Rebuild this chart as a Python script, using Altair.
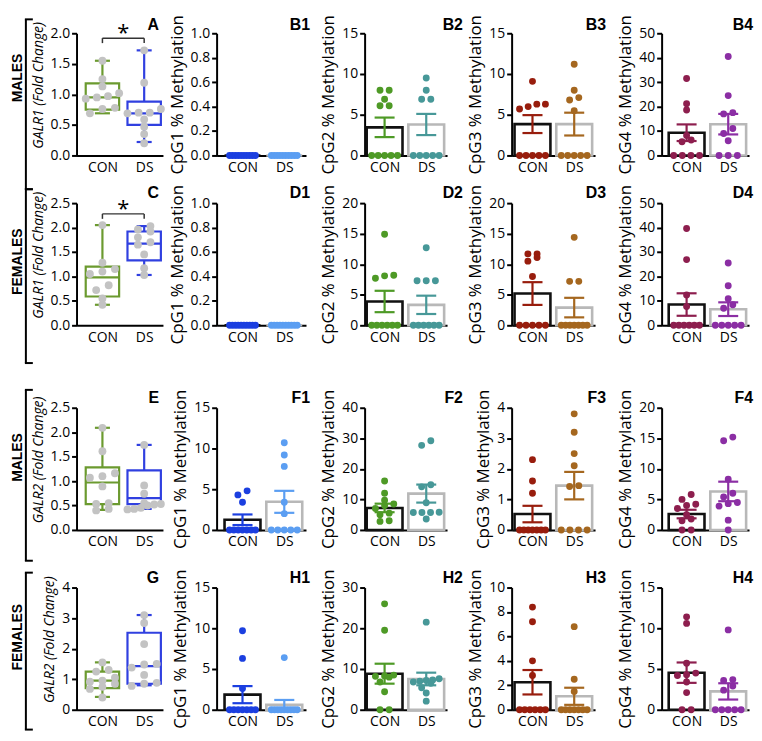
import altair as alt
import pandas as pd
import numpy as np

GROUPS = ["CON", "DS"]

# ---------------- GALR fold change (box panels) ----------------
A_CON = [1.55, 1.25, 1.13, 1.02, 0.97, 0.95, 0.93, 0.78, 0.76, 0.69]
A_DS = [1.72, 1.19, 0.76, 0.70, 0.70, 0.69, 0.59, 0.47, 0.35, 0.20]
A_BOX_CON = [0.69, 0.75, 0.95, 1.18, 1.55]   # min, q1, median, q3, max
A_BOX_DS = [0.22, 0.50, 0.69, 0.88, 1.72]
A_SIG_Y = 1.92

C_CON = [2.05, 1.28, 1.15, 1.10, 1.05, 0.82, 0.72, 0.55, 0.42]
C_DS = [2.03, 1.96, 1.92, 1.80, 1.70, 1.65, 1.45, 1.17, 1.03]
C_BOX_CON = [0.42, 0.59, 0.98, 1.20, 2.05]
C_BOX_DS = [1.03, 1.33, 1.67, 1.92, 2.03]
C_SIG_Y = 2.28

E_CON = [2.09, 1.61, 1.16, 1.10, 1.07, 0.89, 0.55, 0.53, 0.43, 0.40]
E_DS = [1.74, 0.91, 0.74, 0.55, 0.53, 0.52, 0.50, 0.45, 0.43, 0.42]
E_BOX_CON = [0.41, 0.53, 0.97, 1.28, 2.09]
E_BOX_DS = [0.43, 0.53, 0.65, 1.22, 1.74]

G_CON = [1.55, 1.30, 1.25, 1.05, 0.95, 0.92, 0.85, 0.75, 0.68, 0.40]
G_DS = [3.10, 2.84, 2.15, 1.50, 1.48, 1.38, 1.14, 0.88, 0.85, 0.78]
G_BOX_CON = [0.42, 0.71, 0.95, 1.25, 1.55]
G_BOX_DS = [0.80, 0.85, 1.43, 2.52, 3.10]

# ---------------- CpG % methylation (bar panels) ----------------
B1_CON = [0] * 10
B1_DS = [0] * 10
B1_MEAN = [0, 0]
B1_SEM = [0, 0]
B2_CON = [8.0, 8.0, 6.9, 6.1, 6.1, 0, 0, 0, 0, 0]
B2_DS = [9.5, 8.0, 6.9, 6.9, 0, 0, 0, 0, 0]
B2_MEAN = [3.45, 3.8]
B2_SEM = [1.2, 1.3]
B3_CON = [9.1, 6.3, 6.3, 6.0, 5.7, 0, 0, 0, 0, 0]
B3_DS = [11.2, 8.0, 7.1, 6.8, 5.5, 0, 0, 0, 0, 0]
B3_MEAN = [3.85, 3.85]
B3_SEM = [1.1, 1.4]
B4_CON = [31.5, 21.2, 18.6, 8.2, 6.3, 5.6, 0, 0, 0, 0]
B4_DS = [40.5, 24.5, 17.5, 17.0, 11.0, 9.0, 6.0, 0, 0, 0]
B4_MEAN = [9.3, 12.8]
B4_SEM = [3.4, 4.2]

D1_CON = [0] * 10
D1_DS = [0] * 10
D1_MEAN = [0, 0]
D1_SEM = [0, 0]
D2_CON = [14.9, 8.2, 8.1, 7.7, 0, 0, 0, 0, 0, 0]
D2_DS = [12.7, 7.3, 7.3, 7.3, 0, 0, 0, 0, 0, 0]
D2_MEAN = [3.9, 3.35]
D2_SEM = [1.75, 1.5]
D3_CON = [11.7, 11.7, 11.1, 10.5, 8.0, 0, 0, 0, 0, 0]
D3_DS = [14.4, 7.2, 7.2, 0, 0, 0, 0, 0, 0, 0]
D3_MEAN = [5.2, 2.9]
D3_SEM = [1.86, 1.6]
D4_CON = [39.6, 26.9, 12.4, 7.7, 0, 0, 0, 0, 0, 0]
D4_DS = [25.5, 16.2, 10.9, 8.4, 7.0, 0, 0, 0, 0, 0]
D4_MEAN = [8.5, 6.6]
D4_SEM = [4.6, 2.8]

F1_CON = [4.8, 4.3, 3.4, 0, 0, 0, 0, 0, 0, 0]
F1_DS = [10.7, 9.2, 7.8, 3.4, 2.0, 0, 0, 0, 0, 0]
F1_MEAN = [1.25, 3.45]
F1_SEM = [0.65, 1.35]
F2_CON = [16.0, 12.0, 9.7, 8.5, 8.0, 7.0, 5.5, 5.0, 3.0, 2.8]
F2_DS = [29.2, 27.7, 14.8, 14.1, 8.9, 5.8, 5.7, 5.7, 5.7, 3.6]
F2_MEAN = [7.2, 11.9]
F2_SEM = [1.4, 2.95]
F3_CON = [2.3, 1.6, 1.2, 0, 0, 0, 0, 0, 0, 0]
F3_DS = [3.8, 3.2, 2.5, 2.1, 1.45, 1.42, 0, 0, 0, 0]
F3_MEAN = [0.52, 1.45]
F3_SEM = [0.27, 0.45]
F4_CON = [5.8, 5.0, 4.2, 4.0, 3.5, 2.5, 1.8, 1.5, 0, 0]
F4_DS = [15.2, 14.6, 8.3, 6.0, 5.4, 4.5, 4.3, 3.9, 1.6, 0]
F4_MEAN = [2.6, 6.3]
F4_SEM = [0.7, 1.6]

H1_CON = [9.7, 6.3, 2.6, 0, 0, 0, 0, 0, 0, 0]
H1_DS = [6.4, 0, 0, 0, 0, 0, 0, 0, 0, 0]
H1_MEAN = [1.85, 0.6]
H1_SEM = [1.05, 0.6]
H2_CON = [26.0, 19.5, 8.5, 8.3, 8.2, 8.0, 6.8, 4.4, 0, 0]
H2_DS = [21.5, 7.6, 7.3, 7.2, 7.0, 6.8, 6.5, 5.4, 4.1, 2.1]
H2_MEAN = [8.85, 7.55]
H2_SEM = [2.45, 1.55]
H3_CON = [8.4, 7.2, 4.0, 2.8, 0, 0, 0, 0, 0, 0]
H3_DS = [6.8, 2.5, 1.5, 0, 0, 0, 0, 0, 0, 0]
H3_MEAN = [2.25, 1.1]
H3_SEM = [1.0, 0.7]
H4_CON = [11.4, 10.6, 5.7, 4.5, 4.3, 4.2, 3.4, 2.1, 0, 0]
H4_DS = [9.8, 3.7, 3.6, 2.9, 2.4, 0, 0, 0, 0, 0]
H4_MEAN = [4.55, 2.25]
H4_SEM = [1.25, 1.0]

ROWS = [
    ("MALES", ("A", "GALR1", A_CON, A_DS, A_BOX_CON, A_BOX_DS, 2.0, 0.5, A_SIG_Y),
     [("B1", 1, B1_CON, B1_DS, B1_MEAN, B1_SEM, 1.0, 0.2),
      ("B2", 2, B2_CON, B2_DS, B2_MEAN, B2_SEM, 15, 5),
      ("B3", 3, B3_CON, B3_DS, B3_MEAN, B3_SEM, 15, 5),
      ("B4", 4, B4_CON, B4_DS, B4_MEAN, B4_SEM, 50, 10)]),
    ("FEMALES", ("C", "GALR1", C_CON, C_DS, C_BOX_CON, C_BOX_DS, 2.5, 0.5, C_SIG_Y),
     [("D1", 1, D1_CON, D1_DS, D1_MEAN, D1_SEM, 1.0, 0.2),
      ("D2", 2, D2_CON, D2_DS, D2_MEAN, D2_SEM, 20, 5),
      ("D3", 3, D3_CON, D3_DS, D3_MEAN, D3_SEM, 20, 5),
      ("D4", 4, D4_CON, D4_DS, D4_MEAN, D4_SEM, 50, 10)]),
    ("MALES", ("E", "GALR2", E_CON, E_DS, E_BOX_CON, E_BOX_DS, 2.5, 0.5, None),
     [("F1", 1, F1_CON, F1_DS, F1_MEAN, F1_SEM, 15, 5),
      ("F2", 2, F2_CON, F2_DS, F2_MEAN, F2_SEM, 40, 10),
      ("F3", 3, F3_CON, F3_DS, F3_MEAN, F3_SEM, 4, 1),
      ("F4", 4, F4_CON, F4_DS, F4_MEAN, F4_SEM, 20, 5)]),
    ("FEMALES", ("G", "GALR2", G_CON, G_DS, G_BOX_CON, G_BOX_DS, 4, 1, None),
     [("H1", 1, H1_CON, H1_DS, H1_MEAN, H1_SEM, 15, 5),
      ("H2", 2, H2_CON, H2_DS, H2_MEAN, H2_SEM, 30, 10),
      ("H3", 3, H3_CON, H3_DS, H3_MEAN, H3_SEM, 10, 2),
      ("H4", 4, H4_CON, H4_DS, H4_MEAN, H4_SEM, 15, 5)]),
]

# ---------------- styles / layout ----------------
CPG_COLORS = {1: ("#1b3fe0", "#5b9ef2"), 2: ("#4e9a26", "#479898"),
              3: ("#981d0d", "#a5671f"), 4: ("#8d1e4e", "#8b2ea4")}
BOX_COLORS = ("#6b9a2f", "#3040e0")
DOT_GRAY = "#c3c3c3"
BAR_STROKE = ("#111111", "#b8b8b8")
FONT = "Open Sans"
BOLD_FONT = "Liberation Sans"

COLS = [dict(W=87, vis=87, dom=(-0.62, 1.45), lab=83),
        dict(W=95, vis=90, dom=(-0.62, 1.52), lab=94),
        dict(W=94, vis=83, dom=(-0.48, 1.50), lab=99),
        dict(W=97, vis=84, dom=(-0.50, 1.50), lab=95),
        dict(W=88, vis=88, dom=(-0.60, 1.50), lab=92)]
PLOT_H = 123
# p: plot top inside the cell, lt: letter offset, bt/bb: bracket ends, sy: row label centre
ROW_LAYOUT = [dict(p=16, lt=-8, bt=-14, bb=34, sy=45),
              dict(p=20, lt=-10, bt=-14, bb=38, sy=59),
              dict(p=55, lt=-10, bt=-18, bb=31, sy=50),
              dict(p=30, lt=-10, bt=-15, bb=20, sy=50)]
for _r in ROW_LAYOUT:
    _r["H"] = _r["p"] + PLOT_H


def spread(vals, thr, dmax, span):
    order = sorted(range(len(vals)), key=lambda i: vals[i])
    offs = [0.0] * len(vals)
    clusters = []
    for i in order:
        if clusters and vals[i] - vals[clusters[-1][0]] <= thr:
            clusters[-1].append(i)
        else:
            clusters.append([i])
    for cl in clusters:
        k = len(cl)
        if k < 2:
            continue
        d = min(dmax, span / (k - 1))
        for j, i in enumerate(cl):
            offs[i] = (j - (k - 1) / 2) * d
    return offs


def axes(col, row, ymax, step, title, box):
    c, r = COLS[col], ROW_LAYOUT[row]
    xs = alt.Scale(domain=list(c["dom"]), range=[0, c["vis"]], nice=False, zero=False)
    ys = alt.Scale(domain=[0, ymax], range=[r["H"], r["p"]], nice=False, zero=False)
    ticks = [round(v, 6) for v in np.arange(0, ymax + step / 2, step)]
    fmt = ".1f" if (step < 1 or ymax in (2.0, 2.5)) else "d"
    if box:
        yaxis = alt.Axis(values=ticks, format=fmt, title=title,
                         titleFont="Liberation Sans Narrow, Open Sans", titleFontStyle="italic",
                         titleFontSize=14, titlePadding=5, titleY=r["p"] + 52)
    else:
        yaxis = alt.Axis(values=ticks, format=fmt, title=title)
    xaxis = alt.Axis(values=[0, 1], labelExpr="datum.value == 0 ? 'CON' : 'DS'",
                     title=None, ticks=False, labelPadding=5)
    X = lambda f: alt.X(f, type="quantitative", scale=xs, axis=xaxis)
    Y = lambda f: alt.Y(f, type="quantitative", scale=ys, axis=yaxis)
    return X, Y


def letter_layer(letter, col, row):
    c, r = COLS[col], ROW_LAYOUT[row]
    return alt.Chart(pd.DataFrame({"t": [letter]})).mark_text(
        font=BOLD_FONT, fontWeight="bold", fontSize=16, align="right", baseline="middle", color="black"
    ).encode(text="t:N", x=alt.value(c["lab"]), y=alt.value(r["p"] + r["lt"]))


def bar_panel(spec, col, row):
    letter, cpg, con, ds, mean, sem, ymax, step = spec
    r = ROW_LAYOUT[row]
    X, Y = axes(col, row, ymax, step, f"CpG{cpg} % Methylation", False)
    cols = CPG_COLORS[cpg]
    thr = 5 * ymax / (r["H"] - r["p"])
    drows = []
    for g, vals in enumerate([con, ds]):
        for v, o in zip(vals, spread(vals, thr, 0.22, 0.62)):
            drows.append(dict(g=g, v=v, xo=g + o, c=cols[g]))
    ddf = pd.DataFrame(drows)
    sdf = pd.DataFrame(dict(g=[0, 1], m=mean, s=sem))
    sdf["lo"] = sdf.m - sdf.s
    sdf["hi"] = sdf.m + sdf.s
    sdf["x1"] = sdf.g - 0.43
    sdf["x2"] = sdf.g + 0.43
    sdf["c1"] = sdf.g - 0.24
    sdf["c2"] = sdf.g + 0.24
    sdf["zero"] = 0.0
    sdf["bs"] = list(BAR_STROKE)
    sdf["ec"] = list(cols)
    base = alt.Chart(sdf)
    bars = base.mark_bar(fill="white", strokeWidth=2.6).encode(
        x=X("x1"), x2="x2", y=Y("m"), y2="zero", stroke=alt.Stroke("bs:N", scale=None))
    err = base.mark_rule(strokeWidth=2.2).encode(
        x=X("g"), y=Y("lo"), y2="hi", color=alt.Color("ec:N", scale=None))
    cap_hi = base.mark_rule(strokeWidth=2.2).encode(
        x=X("c1"), x2="c2", y=Y("hi"), color=alt.Color("ec:N", scale=None))
    cap_lo = base.mark_rule(strokeWidth=2.2).encode(
        x=X("c1"), x2="c2", y=Y("lo"), color=alt.Color("ec:N", scale=None))
    pts = alt.Chart(ddf).mark_circle(size=48, opacity=1).encode(
        x=X("xo"), y=Y("v"), color=alt.Color("c:N", scale=None))
    return alt.layer(bars, err, cap_hi, cap_lo, pts, letter_layer(letter, col, row)).properties(
        width=COLS[col]["W"], height=r["H"])


def box_panel(sex, spec, row):
    letter, gene, con, ds, bcon, bds, ymax, step, sig = spec
    r = ROW_LAYOUT[row]
    X, Y = axes(0, row, ymax, step, f"{gene} (Fold Change)", True)
    thr = 6 * ymax / (r["H"] - r["p"])
    drows = []
    for g, vals in enumerate([con, ds]):
        for v, o in zip(vals, spread(vals, thr, 0.3, 0.8)):
            drows.append(dict(g=g, v=v, xo=g + o))
    ddf = pd.DataFrame(drows)
    bdf = pd.DataFrame([dict(g=g, lo=b[0], q1=b[1], med=b[2], q3=b[3], hi=b[4], c=BOX_COLORS[g])
                        for g, b in enumerate([bcon, bds])])
    bdf["x1"] = bdf.g - 0.4
    bdf["x2"] = bdf.g + 0.4
    bdf["c1"] = bdf.g - 0.18
    bdf["c2"] = bdf.g + 0.18
    base = alt.Chart(bdf)
    col = alt.Color("c:N", scale=None)
    box = base.mark_rect(fill="white", strokeWidth=2.2).encode(
        x=X("x1"), x2="x2", y=Y("q1"), y2="q3", stroke=alt.Stroke("c:N", scale=None))
    med = base.mark_rule(strokeWidth=2.2).encode(x=X("x1"), x2="x2", y=Y("med"), color=col)
    wh_hi = base.mark_rule(strokeWidth=2.2).encode(x=X("g"), y=Y("q3"), y2="hi", color=col)
    wh_lo = base.mark_rule(strokeWidth=2.2).encode(x=X("g"), y=Y("lo"), y2="q1", color=col)
    cap_hi = base.mark_rule(strokeWidth=2.2).encode(x=X("c1"), x2="c2", y=Y("hi"), color=col)
    cap_lo = base.mark_rule(strokeWidth=2.2).encode(x=X("c1"), x2="c2", y=Y("lo"), color=col)
    pts = alt.Chart(ddf).mark_circle(size=62, opacity=1, color=DOT_GRAY).encode(x=X("xo"), y=Y("v"))
    layers = [box, med, wh_hi, wh_lo, cap_hi, cap_lo, pts, letter_layer(letter, 0, row)]
    if sig is not None:
        tick = 5 * ymax / (r["H"] - r["p"])
        sdf = pd.DataFrame(dict(x1=[0.0], x2=[1.0], y=[sig], yt=[sig - tick], xm=[0.5], t=["*"]))
        sb = alt.Chart(sdf)
        layers += [
            sb.mark_rule(strokeWidth=1.5, color="#333333").encode(x=X("x1"), x2="x2", y=Y("y")),
            sb.mark_rule(strokeWidth=1.5, color="#333333").encode(x=X("x1"), y=Y("yt"), y2="y"),
            sb.mark_rule(strokeWidth=1.5, color="#333333").encode(x=X("x2"), y=Y("yt"), y2="y"),
            sb.mark_text(fontSize=22, font=FONT, color="black", baseline="middle", dy=-5).encode(
                x=X("xm"), y=Y("y"), text="t:N"),
        ]
    # row label and bracket
    top, bot = r["p"] + r["bt"], r["H"] + r["bb"]
    lab = alt.Chart(pd.DataFrame({"t": [sex]})).mark_text(
        font=BOLD_FONT, fontWeight="bold", fontSize=14, angle=270, align="center", baseline="middle",
        color="black").encode(text="t:N", x=alt.value(-59), y=alt.value(r["p"] + r["sy"]))
    br = alt.Chart(pd.DataFrame({"t": [sex]}))
    layers += [
        lab,
        br.mark_rule(strokeWidth=2, color="black").encode(x=alt.value(-51), y=alt.value(top), y2=alt.value(bot)),
        br.mark_rule(strokeWidth=2, color="black").encode(x=alt.value(-52), x2=alt.value(-44), y=alt.value(top)),
        br.mark_rule(strokeWidth=2, color="black").encode(x=alt.value(-52), x2=alt.value(-44), y=alt.value(bot)),
    ]
    return alt.layer(*layers).properties(width=COLS[0]["W"], height=r["H"])


panels = []
for ri, (sex, bspec, bars) in enumerate(ROWS):
    panels.append(box_panel(sex, bspec, ri))
    for ci, spec in enumerate(bars):
        panels.append(bar_panel(spec, ci + 1, ri))

chart = alt.concat(*panels, columns=5, spacing={"row": 28, "column": 54},
                   bounds="flush", align="each").properties(
    padding={"left": 2, "top": 3, "right": 0, "bottom": 0}
).configure_axis(
    domainColor="black", domainWidth=2, tickColor="black", tickWidth=2, tickSize=5,
    labelFont=FONT, labelFontSize=14, labelColor="black", labelPadding=2,
    titleFont=FONT, titleFontSize=17, titleFontWeight="normal", titleColor="black",
    titlePadding=4, grid=False
).configure_view(stroke="transparent")

chart.save("out.html", embed_options={"renderer": "svg", "actions": False})
